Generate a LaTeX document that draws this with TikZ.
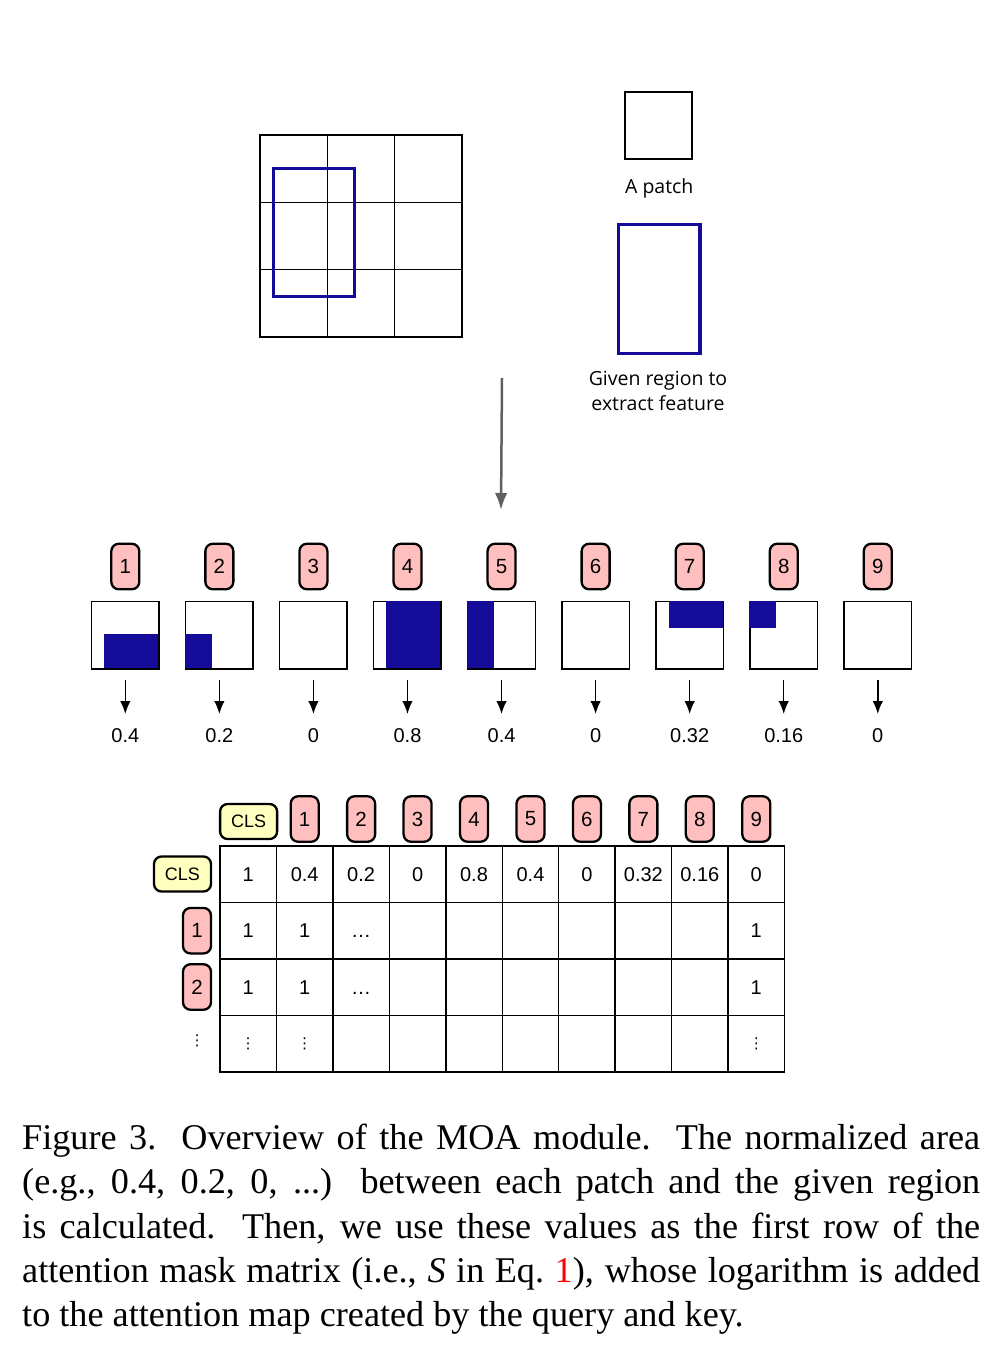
\documentclass[tikz,border=0pt]{standalone}
\usepackage{fontspec}
\setmainfont{Liberation Serif}
\newfontfamily\labfont{Open Sans}
\newfontfamily\numfont{Liberation Sans}
\newfontfamily\dotfont{DejaVu Sans}
\usetikzlibrary{arrows.meta,calc}
\definecolor{regblue}{RGB}{20,12,153}
\definecolor{badgepink}{RGB}{255,191,191}
\definecolor{badgeyellow}{RGB}{255,255,192}
\definecolor{arrgray}{RGB}{96,96,96}
\newcommand\mytridots{…}
\tikzset{
  gridcell/.style={draw, line width=1.5pt, minimum size=67.33pt, inner sep=0pt},
  region/.style={draw=regblue, line width=3.3pt},
  badge/.style={draw=black, line width=2.3pt, fill=badgepink, rounded corners=7.5pt,
    minimum width=28pt, minimum height=45.5pt, inner sep=0pt,
    font=\numfont\fontsize{20.5}{24}\selectfont},
  clsbadge/.style={badge, fill=badgeyellow, minimum width=57pt, minimum height=35pt,
    font=\numfont\fontsize{18}{22}\selectfont},
  patchbox/.style={draw, line width=1.5pt, minimum size=67.5pt, inner sep=0pt},
  numlabel/.style={font=\numfont\fontsize{20}{24}\selectfont, inner sep=0pt},
  cell/.style={draw, line width=1.5pt, minimum size=56.45pt, inner sep=0pt,
    text height=14.5pt, text depth=0pt, font=\numfont\fontsize{20}{24}\selectfont},
  vdot/.style={font=\dotfont\fontsize{15}{18}\selectfont, inner sep=0pt},
  labtext/.style={font=\labfont\fontsize{19.5}{25}\selectfont, inner sep=0pt, align=center},
  downarrow/.style={draw=black, line width=1.5pt, -{Latex[length=13pt,width=10.5pt]}},
  grayarrow/.style={draw=arrgray, line width=2.5pt, -{Latex[length=17pt,width=12.5pt]}}
}
\begin{document}
\begin{tikzpicture}[x=1pt,y=-1pt]
\useasboundingbox (0,0) rectangle (1000,1361);

% ---- top 3x3 patch grid with given region
\foreach \r in {0,1,2}{
  \foreach \c in {0,1,2}{
    \pgfmathtruncatemacro{\k}{3*\r+\c+1}
    \node[gridcell] (g\k) at ({260+33.67+67.33*\c},{135+33.67+67.33*\r}) {};
  }
}
\draw[region] (273.4,168.6) rectangle (354.6,296.6);

% ---- legend
\node[draw, line width=1.5pt, minimum size=67pt, inner sep=0pt] (apatch) at (658.7,125.7) {};
\node[labtext] (apatchlab) at (659.3,188) {A patch};
\node[region, minimum width=81.7pt, minimum height=129pt, inner sep=0pt] (given) at (659.2,288.8) {};
\node[labtext] (givenlab) at (658,390.5) {Given region to\\extract feature};

% ---- gray arrow
\coordinate (ga) at (502,378);
\coordinate (gb) at (501,510);
\draw[grayarrow] (ga) -- (gb);

% ---- row of patches
\foreach \i/\v in {1/0.4,2/0.2,3/0,4/0.8,5/0.4,6/0,7/0.32,8/0.16,9/0}{
  \pgfmathsetmacro{\xx}{125.3+94.06*(\i-1)}
  \node[badge] (b\i) at (\xx,566.5) {\i};
  \node[patchbox] (p\i) at (\xx,635) {};
  \node[numlabel] (v\i) at (\xx,735.5) {\v};
  \coordinate (as\i) at (\xx,680);
  \coordinate (ae\i) at (\xx,714);
  \draw[downarrow] (as\i) -- (ae\i);
}
\foreach \i/\a/\b/\c/\d in {1/0.2/0.5/1/1, 2/0/0.5/0.4/1, 4/0.2/0/1/1, 5/0/0/0.4/1, 7/0.2/0/1/0.4, 8/0/0/0.4/0.4}{
  \fill[regblue] ($(p\i.north west)+(\a*67.5,\b*67.5)$) rectangle ($(p\i.north west)+(\c*67.5,\d*67.5)$);
}

% ---- attention mask matrix
\foreach \r/\row in {0/{1,0.4,0.2,0,0.8,0.4,0,0.32,0.16,0},
                     1/{1,1,\mytridots,,,,,,,1},
                     2/{1,1,\mytridots,,,,,,,1},
                     3/{,,,,,,,,,}}{
  \foreach \t [count=\cc from 0] in \row {
    \node[cell] (m\r-\cc) at ({220+28.225+56.45*\cc},{846+28.225+56.45*\r}) {\t};
  }
}
\foreach \cc in {0,1,9}{
  \node[vdot] (md\cc) at (m3-\cc) {⋮};
}

% column headers
\node[clsbadge] (hcls) at (248.6,821.5) {CLS};
\foreach \cc in {1,...,9}{
  \node[badge] (h\cc) at ({248.225+56.45*\cc},819) {\cc};
}
% row headers
\node[clsbadge] (rcls) at (182.5,874) {CLS};
\node[badge] (r1) at (197,930.7) {1};
\node[badge] (r2) at (197,987) {2};
\node[vdot] (rdots) at (197,1041) {⋮};

% ---- caption
\node[anchor=base west, inner sep=0pt] (caption) at (22,1149.5) {\parbox[t]{958pt}{\fontsize{36.2}{44.3}\selectfont
Figure 3.\ \ Overview of the MOA module.\ \ The normalized area\linebreak
(e.g., 0.4, 0.2, 0, ...)\ \ between each patch and the given region\linebreak
is calculated.\ \ Then, we use these values as the first row of the\linebreak
attention mask matrix (i.e., \textit{S} in Eq.~\textcolor{red}{1}), whose logarithm is added\linebreak
to the attention map created by the query and key.}};
\end{tikzpicture}
\end{document}
